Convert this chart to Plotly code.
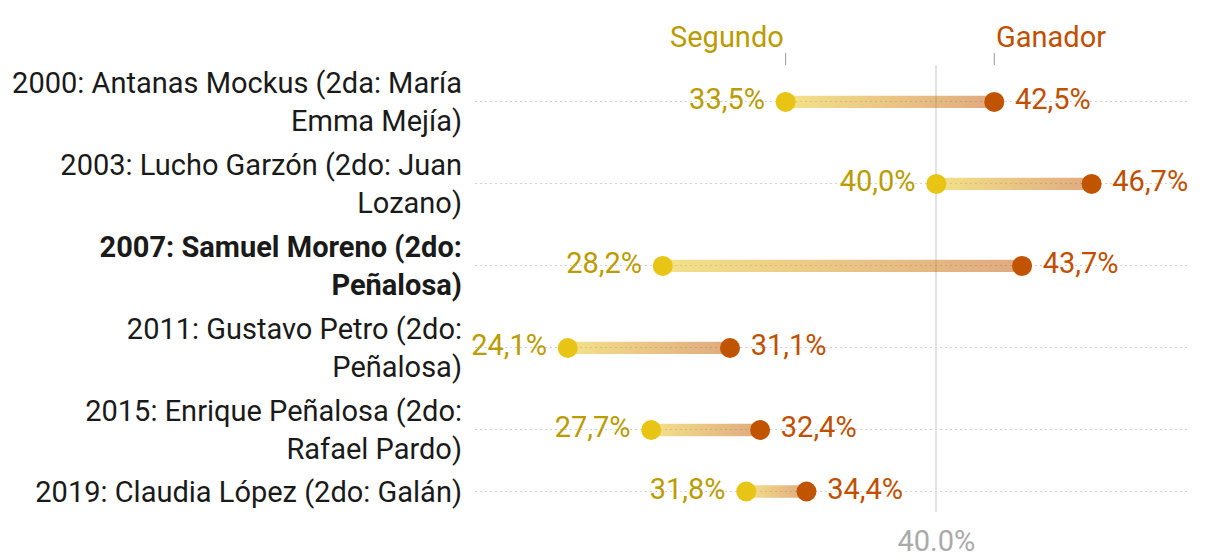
import plotly.graph_objects as go

labels = [
    "2000: Antanas Mockus (2da: María<br>Emma Mejía)",
    "2003: Lucho Garzón (2do: Juan<br>Lozano)",
    "<b>2007: Samuel Moreno (2do:<br>Peñalosa)</b>",
    "2011: Gustavo Petro (2do:<br>Peñalosa)",
    "2015: Enrique Peñalosa (2do:<br>Rafael Pardo)",
    "2019: Claudia López (2do: Galán)",
]
segundo = [33.5, 40.0, 28.2, 24.1, 27.7, 31.8]
ganador = [42.5, 46.7, 43.7, 31.1, 32.4, 34.4]
ref_value = 40.0
ref_label = "40.0%"

FONT = "Roboto"
FS = 29
C_SEG = "#e8c414"
C_GAN = "#c05400"
C_SEG_TXT = "#bb9c00"
C_GAN_TXT = "#c05000"
NBSP = "\u00a0"

# row centres derived from the number of label lines
centres = []
acc = 0.0
for lab in labels:
    n = lab.count("<br>") + 1
    centres.append(acc + n / 2)
    acc += n

def fmt(v):
    return f"{v:.1f}".replace(".", ",") + "%"

fig = go.Figure()

half = 0.15
for y, a, b in zip(centres, segundo, ganador):
    fig.add_trace(go.Scatter(
        x=[a, b, b, a, a], y=[y - half, y - half, y + half, y + half, y - half],
        mode="lines", line=dict(width=0), fill="toself",
        fillgradient=dict(type="horizontal",
                          colorscale=[[0, "rgba(232,196,20,0.5)"], [1, "rgba(192,84,0,0.5)"]]),
        hoverinfo="skip", showlegend=False))

fig.add_trace(go.Scatter(
    x=segundo, y=centres, mode="markers+text", cliponaxis=False,
    marker=dict(size=20, color=C_SEG),
    text=[fmt(v) + NBSP for v in segundo], textposition="middle left",
    textfont=dict(family=FONT, size=FS, color=C_SEG_TXT),
    showlegend=False))
fig.add_trace(go.Scatter(
    x=ganador, y=centres, mode="markers+text", cliponaxis=False,
    marker=dict(size=20, color=C_GAN),
    text=[NBSP + fmt(v) for v in ganador], textposition="middle right",
    textfont=dict(family=FONT, size=FS, color=C_GAN_TXT),
    showlegend=False))

fig.add_annotation(x=segundo[0], y=1.063, xref="x", yref="paper", text="Segundo",
                   showarrow=False, xanchor="right", yanchor="middle",
                   font=dict(family=FONT, size=FS, color=C_SEG_TXT))
fig.add_annotation(x=ganador[0], y=1.063, xref="x", yref="paper", text="Ganador",
                   showarrow=False, xanchor="left", yanchor="middle",
                   font=dict(family=FONT, size=FS, color=C_GAN_TXT))
for v in (segundo[0], ganador[0]):
    fig.add_shape(type="line", x0=v, x1=v, xref="x", yref="paper", y0=1.0, y1=1.027,
                  line=dict(color="#999999", width=1))

fig.update_layout(
    width=1212, height=552,
    margin=dict(l=467, r=31, t=57, b=48),
    paper_bgcolor="white", plot_bgcolor="white",
    font=dict(family=FONT, size=FS, color="#1a1a1a"),
    xaxis=dict(range=[20.1, 50.9], tickvals=[ref_value], ticktext=[ref_label],
               showgrid=True, gridcolor="#e2e2e2", gridwidth=1.5, zeroline=False,
               showline=False, ticks="outside", ticklen=3, tickcolor="rgba(0,0,0,0)",
               automargin=False,
               tickfont=dict(family=FONT, size=FS, color="#aaaaaa")),
    yaxis=dict(range=[acc, 0.1], tickvals=centres, ticktext=labels,
               showgrid=True, gridcolor="#d2d2d2", griddash="2px,3px", gridwidth=1,
               zeroline=False, showline=False, ticks="", ticklabelstandoff=12,
               automargin=False,
               tickfont=dict(family=FONT, size=FS, color="#1a1a1a")),
)

fig.write_html("out.html")
